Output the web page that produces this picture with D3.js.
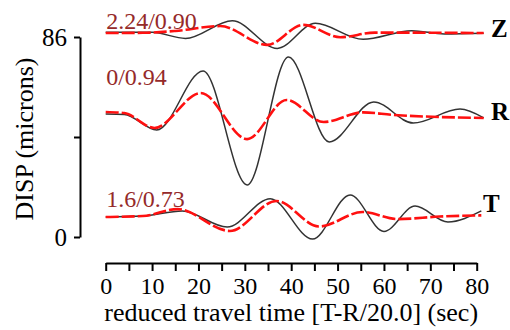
<!DOCTYPE html>
<html>
<head>
<meta charset="utf-8">
<script src="https://cdn.jsdelivr.net/npm/d3@7"></script>
<style>
  html, body { margin: 0; padding: 0; background: #fff; }
  svg { display: block; }
</style>
</head>
<body>
<svg id="chart" width="510" height="330"></svg>
<script>
// ---- data (time in s, displacement in microns, offset traces) ----
const components = ["Z", "R", "T"];
const fitLabels = ["2.24/0.90", "0/0.94", "1.6/0.73"];

const zObserved = [[0,88.0],[10,88.0],[17.2,85.4],[27.3,93.0],[37,81.1],[45.2,91.9],[55.5,85.0],[66,88.7],[73,87.3],[81.5,87.6]];
const zSynthetic = [[0,87.7],[8,87.8],[15,88.6],[24.7,90.7],[34.8,82.6],[42.6,91.2],[50.6,85.9],[58,87.9],[81.5,87.7]];

const rObserved = [[0,52.9],[4,52.7],[11,46.0],[21,71.4],[30.5,22.4],[39.4,77.4],[48.2,40.9],[57.8,58.1],[66.3,49.0],[76.4,55.0],[81.5,51.2]];
const rSynthetic = [[0,53.75],[4,53.3],[10.5,46.9],[20.5,61.9],[30.5,42.1],[39,58.9],[47,49.45],[55.5,53.6],[62,52.5],[81.5,51.2]];

const tObserved = [[0,8.6],[8,9.0],[16.5,11.2],[26.2,4.3],[35.5,16.5],[44.6,-0.9],[52.7,18.1],[60,2.4],[66.7,13.3],[73.8,6.45],[81,11.2]];
const tSynthetic = [[0,8.6],[8,9.0],[15.5,12.0],[26.8,2.6],[36.8,15.5],[46,4.5],[55.4,10.75],[63,7.7],[72,8.8],[81,9.3]];

const xTickValues = d3.range(0, 81, 5);
const yTickValues = [0, 43, 86];
const yTickLabels = ["0", "", "86"];
const xTitle = "reduced travel time [T-R/20.0] (sec)";
const yTitle = "DISP (microns)";

// ---- drawing ----
const svg = d3.select("#chart");
const serif = "'Liberation Serif', 'Times New Roman', serif";

const x = d3.scaleLinear().domain([0, 80]).range([105.7, 476.7]);
const y = d3.scaleLinear().domain([0, 86]).range([237, 37]);

const line = d3.line()
  .x(d => x(d[0]))
  .y(d => y(d[1]))
  .curve(d3.curveMonotoneX);

const traces = [
  { obs: zObserved, syn: zSynthetic },
  { obs: rObserved, syn: rSynthetic },
  { obs: tObserved, syn: tSynthetic }
];

const g = svg.append("g");

// observed (black) first
traces.forEach(tr => {
  g.append("path")
    .attr("d", line(tr.obs))
    .attr("fill", "none")
    .attr("stroke", "#333")
    .attr("stroke-width", 1.5);
});
// synthetic (red dashed) on top
traces.forEach(tr => {
  g.append("path")
    .attr("d", line(tr.syn))
    .attr("fill", "none")
    .attr("stroke", "#ff1010")
    .attr("stroke-width", 2.6)
    .attr("stroke-dasharray", "13,3");
});

// fit labels (dark red)
const fitDy = [-4, -27, -10];
fitLabels.forEach((lab, i) => {
  const first = traces[i].syn[0];
  svg.append("text")
    .attr("x", x(first[0]) + 0.5)
    .attr("y", y(first[1]) + fitDy[i])
    .attr("font-family", serif)
    .attr("font-size", 24)
    .attr("fill", "#952a2a")
    .text(lab);
});

// component labels
const compX = [491, 491, 483];
const compDy = [4, 2, 1];
components.forEach((c, i) => {
  const obs = traces[i].obs;
  const last = obs[obs.length - 1];
  svg.append("text")
    .attr("x", compX[i])
    .attr("y", y(last[1]) + compDy[i])
    .attr("font-family", serif)
    .attr("font-weight", "bold")
    .attr("font-size", 25)
    .attr("fill", "#000")
    .text(c);
});

// y axis
const yAxis = d3.axisLeft(y)
  .tickValues(yTickValues)
  .tickFormat(d => yTickLabels[yTickValues.indexOf(d)])
  .tickSize(6)
  .tickSizeOuter(0)
  .tickPadding(7);
const gy = svg.append("g").attr("transform", "translate(80,0)").call(yAxis);
gy.select(".domain").attr("stroke", "#000").attr("stroke-width", 2);
gy.selectAll(".tick line").attr("stroke", "#000").attr("stroke-width", 2);
gy.selectAll(".tick text").attr("font-family", serif).attr("font-size", 25).attr("fill", "#000");

// x axis
const xAxis = d3.axisBottom(x)
  .tickValues(xTickValues)
  .tickFormat(d => (d % 10 === 0 ? d : ""))
  .tickSize(8)
  .tickSizeOuter(0)
  .tickPadding(6);
const gx = svg.append("g").attr("transform", "translate(0,263)").call(xAxis);
gx.select(".domain").attr("stroke", "#000").attr("stroke-width", 2);
gx.selectAll(".tick line").attr("stroke", "#000").attr("stroke-width", 2);
gx.selectAll(".tick text").attr("font-family", serif).attr("font-size", 24).attr("fill", "#000");

// titles
svg.append("text")
  .attr("x", (x(0) + x(80)) / 2)
  .attr("y", 321)
  .attr("text-anchor", "middle")
  .attr("font-family", serif)
  .attr("font-size", 26)
  .attr("fill", "#000")
  .text(xTitle);

svg.append("text")
  .attr("transform", "translate(33,139) rotate(-90)")
  .attr("text-anchor", "middle")
  .attr("font-family", serif)
  .attr("font-size", 26)
  .attr("fill", "#000")
  .text(yTitle);
</script>
</body>
</html>
